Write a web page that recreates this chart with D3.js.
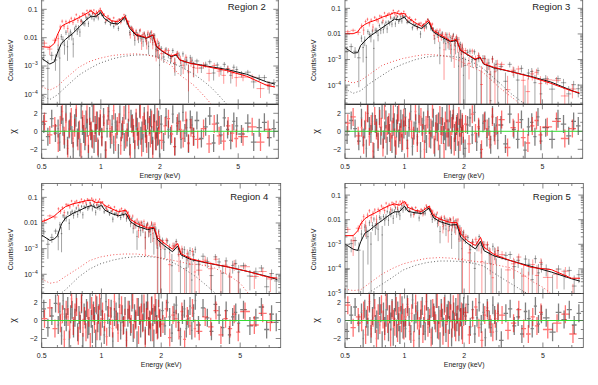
<!DOCTYPE html>
<html>
<head>
<meta charset="utf-8">
<script src="https://cdn.jsdelivr.net/npm/d3@7"></script>
<style>
  body { margin: 0; background: #fff; }
  svg { display: block; font-family: "Liberation Sans", Arial, sans-serif; }
</style>
</head>
<body>
<svg id="chart" width="598" height="385"></svg>
<script>
// ---- data -------------------------------------------------------------
const regions = ["Region 2", "Region 3", "Region 4", "Region 5"]

// energies (keV) of the model knots
const knotE = [0.5,0.55,0.58,0.6,0.63,0.66,0.72,0.78,0.84,0.89,0.94,1.0,1.04,1.13,1.22,1.33,1.4,1.51,1.71,1.84,1.92,2.07,2.28,2.42,2.52,2.83,3.45,4.37,5.52,6.98,7.7]
// total model, log10(counts/s/keV)
const modelBlack2 = [-2.73,-2.93,-2.85,-2.55,-2.20,-2.06,-1.85,-1.61,-1.38,-1.24,-1.26,-1.12,-1.32,-1.49,-1.52,-1.28,-1.67,-1.91,-2.02,-1.91,-2.32,-2.50,-2.67,-2.61,-2.79,-2.89,-3.00,-3.12,-3.29,-3.56,-3.64]
const modelRed2   = [-2.32,-2.34,-2.20,-1.91,-1.60,-1.52,-1.40,-1.28,-1.16,-1.05,-1.17,-1.02,-1.22,-1.40,-1.44,-1.24,-1.62,-1.88,-2.00,-1.90,-2.30,-2.48,-2.65,-2.58,-2.78,-2.90,-3.02,-3.16,-3.36,-3.68,-3.74]
const modelBlack3 = [-2.54,-2.75,-2.73,-2.45,-2.28,-2.12,-1.92,-1.73,-1.56,-1.42,-1.45,-1.34,-1.52,-1.68,-1.79,-1.54,-1.92,-2.08,-2.30,-2.25,-2.64,-2.80,-3.00,-2.93,-3.18,-3.32,-3.47,-3.66,-3.88,-4.20,-4.33]
const modelRed3   = [-1.99,-1.99,-1.92,-1.75,-1.63,-1.55,-1.45,-1.33,-1.25,-1.16,-1.22,-1.20,-1.36,-1.55,-1.70,-1.47,-1.86,-2.02,-2.27,-2.22,-2.62,-2.78,-2.98,-2.90,-3.16,-3.30,-3.47,-3.68,-3.93,-4.22,-4.30]
const modelBlack4 = [-2.47,-2.68,-2.62,-2.50,-2.03,-1.80,-1.62,-1.50,-1.38,-1.32,-1.42,-1.31,-1.50,-1.64,-1.72,-1.64,-1.95,-2.12,-2.26,-2.20,-2.66,-2.88,-3.12,-2.90,-3.25,-3.43,-3.57,-3.72,-3.90,-4.10,-4.21]
const modelRed4   = [-1.96,-1.82,-1.72,-1.62,-1.48,-1.36,-1.25,-1.19,-1.13,-1.11,-1.20,-1.18,-1.32,-1.45,-1.56,-1.50,-1.86,-2.02,-2.20,-2.17,-2.58,-2.78,-3.02,-2.80,-3.20,-3.40,-3.56,-3.72,-3.90,-4.12,-4.15]
const modelBlack5 = [-2.99,-3.20,-3.25,-2.90,-2.55,-2.45,-2.20,-2.00,-1.80,-1.68,-1.68,-1.45,-1.66,-1.72,-1.75,-1.53,-1.92,-2.08,-2.22,-2.20,-2.71,-2.95,-3.19,-2.88,-3.26,-3.47,-3.67,-3.90,-4.13,-4.40,-4.50]
const modelRed5   = [-2.65,-2.65,-2.45,-2.17,-1.96,-1.85,-1.70,-1.54,-1.42,-1.36,-1.41,-1.26,-1.50,-1.62,-1.67,-1.45,-1.82,-1.98,-2.12,-2.12,-2.58,-2.85,-3.05,-2.72,-3.12,-3.41,-3.67,-3.94,-4.03,-4.38,-4.38]

// dotted model components, log10(counts/s/keV)
const compE = [0.5,0.55,0.6,0.66,0.77,0.87,0.98,1.14,1.3,1.5,1.7,1.9,2.1,2.3,2.5,2.8,3.0,3.4,3.7,4.0,4.4,5.0,5.5]
const compBlack2 = [-4.03,-4.18,-4.02,-3.75,-3.33,-3.10,-2.91,-2.75,-2.66,-2.61,-2.61,-2.65,-2.76,-2.89,-3.00,-3.18,-3.30,-3.58,-3.80,-4.05,-4.37,-4.80,-5.20]
const compRed2   = [-3.73,-3.85,-3.72,-3.45,-3.05,-2.85,-2.73,-2.63,-2.59,-2.57,-2.60,-2.68,-2.83,-3.00,-3.30,-3.54,-3.70,-4.10,-4.40,-4.70,-5.00,-5.30,-5.60]
const compBlack3 = [-4.14,-4.32,-4.22,-3.96,-3.62,-3.36,-3.18,-3.00,-2.90,-2.85,-2.87,-2.92,-3.03,-3.17,-3.35,-3.68,-3.88,-4.28,-4.50,-4.70,-5.00,-5.30,-5.60]
const compRed3   = [-3.81,-3.92,-3.82,-3.60,-3.23,-3.08,-2.96,-2.86,-2.80,-2.83,-2.90,-3.05,-3.22,-3.36,-3.50,-3.85,-4.07,-4.40,-4.62,-4.90,-5.20,-5.50,-5.80]
const compBlack4 = [-5.00,-5.00,-4.85,-4.60,-4.10,-3.80,-3.60,-3.45,-3.36,-3.31,-3.31,-3.34,-3.42,-3.55,-3.70,-3.95,-4.10,-4.45,-4.70,-4.90,-5.10,-5.40,-5.60]
const compRed4   = [-4.18,-4.35,-4.30,-4.08,-3.75,-3.47,-3.33,-3.24,-3.21,-3.21,-3.26,-3.33,-3.40,-3.46,-3.52,-3.60,-3.62,-3.67,-3.75,-3.88,-4.05,-4.35,-4.75]
const compBlack5 = [-5.60,-5.50,-5.30,-4.96,-4.62,-4.34,-4.05,-3.85,-3.74,-3.68,-3.68,-3.70,-3.73,-3.80,-3.88,-4.15,-4.30,-4.57,-4.75,-4.92,-5.10,-5.30,-5.50]
const compRed5   = [-4.82,-4.88,-4.85,-4.60,-4.21,-3.98,-3.80,-3.66,-3.57,-3.54,-3.56,-3.61,-3.66,-3.70,-3.75,-3.82,-3.86,-3.95,-4.10,-4.25,-4.50,-4.75,-5.00]

// spectral grouping: [from keV, to keV, number of bins]
const groupBlack = [[0.5,0.6,4],[0.6,1.0,34],[1.0,2.0,46],[2.0,3.0,17],[3.0,5.0,12],[5.0,7.8,7]]
const groupRed   = [[0.5,0.6,3],[0.6,1.0,28],[1.0,2.0,40],[2.0,3.0,12],[3.0,5.0,9],[5.0,7.4,4]]
const exposure = {black: 80000, red: 60000}   // s

// residuals (chi) per bin
const resBlack2 = [0.8,-0.6,1.4,-0.2, 0.3,-1.2,1.8,0.5,-0.9,2.1,-1.6,0.2,1.1,-0.4,-2.2,0.9,1.5,-0.7,0.1,-1.8,2.4,0.6,-0.3,-1.1,1.3,0.4,-2.5,1.7,0.0,-0.8,2.0,-1.4,0.7,-0.2,1.2,-1.9,0.5,0.9, -0.6,1.6,-2.1,0.3,2.2,-0.9,0.8,-1.5,1.0,0.2,-2.4,1.9,-0.1,0.6,-1.2,2.3,-0.7,0.4,-1.7,1.4,0.9,-0.3,-2.0,1.1,0.5,-1.0,2.5,-0.5,0.1,-1.3,1.7,0.3,-0.8,1.2,-2.2,0.7,1.5,-0.4,-1.6,0.9,2.0,-1.1,0.2,-0.6,1.3,-1.9, 0.8,-1.2,1.6,0.2,-0.5,1.9,-1.7,0.6,1.1,-0.9,2.1,-0.2,0.4,-1.4,1.3,0.7,-0.6, 1.2,-0.8,0.5,1.7,-1.3,0.9,-0.4,1.5,0.2,-1.0,1.1,0.6, -0.3,0.9,-1.2,0.4,1.0,-0.7,0.3]
const resRed2 = [1.1,-0.4,0.6, -1.3,0.7,2.2,-0.5,1.0,-1.9,0.3,1.6,-0.8,0.4,2.6,-1.1,0.2,-2.3,1.3,0.8,-0.6,1.9,-1.4,0.5,0.1,-0.9,2.0,-0.2,1.2,-1.7,0.6,1.4, -0.7,0.9,-2.1,1.7,0.3,-0.4,2.3,-1.2,0.6,1.0,-1.6,0.2,1.8,-0.9,-0.1,2.1,-2.4,0.8,0.4,-1.0,1.5,-0.6,0.0,2.4,-1.8,0.7,1.1,-0.3,-1.4,1.9,0.5,-0.8,1.3,-2.0,0.9,0.1,-1.1,1.6,-0.5,0.7, -1.0,0.6,1.4,-0.3,-1.7,0.9,0.2,-0.8,1.2,-1.3,0.4,-0.6, -0.9,0.3,-1.4,0.8,-0.5,-1.1,0.6,-0.2,-0.8, -0.6,0.5,-1.2,0.2]
const resBlack3 = [-0.4,1.2,0.3,-1.1, 1.5,-0.7,0.2,-1.9,2.0,0.6,-0.3,1.1,-2.3,0.8,0.4,-1.2,1.7,-0.5,2.4,-0.9,0.1,1.3,-1.6,0.7,-0.2,2.1,-1.4,0.5,1.0,-2.0,0.3,1.8,-0.8,-0.1,1.4,-1.3,0.9,0.2, 1.6,-1.0,0.4,2.2,-1.7,0.1,0.9,-0.6,1.9,-2.2,0.5,1.2,-0.3,-1.4,2.5,0.7,-0.9,0.2,1.5,-1.8,0.8,-0.1,1.1,-2.5,0.6,1.7,-0.4,0.0,-1.1,2.0,0.3,-0.7,1.3,-1.5,0.9,2.3,-0.2,-1.2,0.6,1.0,-2.1,0.4,1.4,-0.5,0.8,-1.6, -1.9,0.7,1.5,-0.4,2.1,-1.2,0.3,-2.4,0.9,1.2,-0.7,0.5,-1.5,1.8,-0.1,0.6,-1.0, 0.7,-1.4,1.9,0.2,-0.9,1.3,-2.1,0.5,1.0,-0.6,1.6,-1.1, 0.4,-0.9,1.4,0.8,-0.5,1.1,0.6]
const resRed3 = [0.9,1.6,-0.5, 0.4,-1.5,1.2,2.0,-0.6,0.8,-2.2,1.7,0.1,-0.9,1.4,0.5,-1.8,2.3,-0.3,0.6,1.0,-1.2,0.2,1.9,-0.7,-1.6,0.9,2.1,-0.4,0.3,-1.1,1.5, 0.6,-1.9,1.1,0.2,-0.5,2.2,-1.3,0.8,1.6,-0.2,-2.0,0.7,1.3,-0.8,0.4,2.5,-1.5,0.0,0.9,-1.1,1.8,-0.4,0.5,-2.3,1.2,0.3,-0.7,2.0,-1.0,0.6,1.4,-1.7,0.1,0.8,-0.6,1.7,-1.2,0.4,1.0,-0.3, 0.8,-1.4,1.9,-0.2,0.5,-2.0,1.1,0.3,-0.9,1.6,-0.5,0.7, 1.3,-1.8,0.4,1.0,-0.7,-1.3,0.6,1.2,-0.4, 0.5,1.1,-0.8,0.3]
const resBlack4 = [1.3,-0.8,0.5,1.9, -0.5,1.0,-1.7,2.2,0.4,-0.2,1.6,-2.1,0.7,1.2,-0.9,0.3,2.0,-1.3,0.6,-0.4,1.8,-2.4,0.9,0.1,1.4,-1.0,-0.6,2.3,0.2,-1.5,1.1,0.5,-2.0,1.7,-0.3,0.8,-1.2,1.5, 0.2,-1.6,2.1,0.6,-0.8,1.3,-2.3,0.4,1.0,-0.1,2.4,-1.1,0.7,-0.5,1.6,-1.9,0.3,1.2,-0.7,2.0,-1.4,0.8,0.0,-2.2,1.5,0.5,-0.9,1.9,-0.2,0.9,-1.7,1.1,2.2,-0.6,0.1,-1.3,1.7,0.4,-2.0,0.6,1.4,-0.4,-1.0,2.5,0.3,-0.8, 1.1,-0.6,2.0,0.4,-1.4,0.9,1.7,-0.2,-1.8,0.6,1.3,-0.9,0.2,1.6,-1.1,0.8,2.2, -0.5,1.4,0.3,-1.2,1.8,0.6,-0.8,1.1,-1.6,0.4,0.9,-0.3, 1.2,-0.6,0.3,1.5,-1.0,0.7,-0.2]
const resRed4 = [0.2,1.4,-0.9, 1.8,-0.3,0.7,-2.1,1.2,0.4,-1.0,2.4,-0.6,0.9,1.5,-1.7,0.0,2.0,-0.8,0.5,-1.3,1.1,0.3,-2.4,1.6,0.8,-0.4,1.9,-1.2,0.6,2.2,-0.7, 1.0,-0.2,-1.8,1.4,0.5,-0.9,2.1,0.1,-1.4,0.8,1.7,-0.6,0.3,-2.2,1.2,0.7,-0.4,2.3,-1.0,0.2,1.5,-1.6,0.6,0.9,-0.3,1.9,-2.0,0.4,1.1,-0.7,0.0,1.6,-1.3,0.8,2.0,-0.5,-1.1,1.3,0.2,-0.8, -0.4,1.3,-1.9,0.6,0.2,-1.1,1.0,-2.1,0.5,-0.6,1.4,-0.9, -1.2,0.4,-0.7,1.1,-1.6,0.2,-0.9,0.7,-1.3, 1.0,-0.5,0.8,-0.2]
const resBlack5 = [-1.2,0.6,1.5,-0.3, 0.9,-2.0,1.3,0.2,-0.7,1.9,-1.5,0.5,2.3,-0.4,0.1,-1.1,1.6,0.8,-2.2,1.0,-0.6,0.3,2.1,-1.3,0.7,-0.1,1.4,-1.8,0.4,2.0,-0.9,1.1,-0.2,-1.6,0.6,1.7,-1.0,0.3, -0.9,1.8,0.4,-1.5,2.3,-0.3,0.7,1.1,-2.0,0.2,1.6,-0.6,-1.2,2.1,0.5,-0.4,1.3,-1.7,0.9,0.0,2.4,-1.0,0.6,-2.3,1.4,0.3,-0.7,1.9,-1.4,0.8,1.2,-0.5,2.2,-1.9,0.1,1.0,-0.8,1.5,-0.2,0.7,-1.3,2.0,0.4,-1.1,0.9,1.6, 0.5,1.8,-0.7,1.2,-1.5,0.3,2.0,-0.4,0.9,-1.9,1.4,0.1,-0.8,1.7,0.6,-1.2,1.0, -2.2,0.8,1.3,-0.6,0.4,-1.5,1.0,0.2,-0.9,1.6,-0.4,0.7, 0.3,-1.3,0.9,0.1,1.2,-0.5,0.8]
const resRed5 = [1.7,-0.8,0.4, -0.2,1.1,-1.6,0.6,2.1,-0.9,0.3,1.4,-2.0,0.8,-0.5,1.8,0.1,-1.2,2.3,-0.4,0.7,-1.9,1.2,0.2,-0.7,1.6,-1.4,0.5,2.0,-0.3,0.9,-1.1, 0.4,1.5,-1.2,0.8,-2.2,1.9,0.0,-0.6,1.2,-1.5,0.7,2.1,-0.8,0.3,-1.9,1.4,0.6,-0.3,2.4,-1.1,0.2,0.9,-1.7,1.6,-0.4,0.5,-2.0,1.1,0.8,-0.9,1.8,-0.1,-1.3,0.6,2.2,-0.7,0.3,1.0,-1.6,0.4, 0.9,-1.6,0.3,1.5,-0.8,-2.2,0.6,1.1,-0.4,-1.3,0.2,0.8, 0.6,-1.1,-0.3,1.2,-0.9,-1.5,0.4,-0.6,0.9, -1.0,-0.3,0.7,-1.5]

// log10 y range of each spectrum panel
const yLimits = [[-4.35,-0.47],[-4.75,-0.45],[-4.75,-0.46],[-5.0,-0.53]]

// ---- layout -------------------------------------------------------------
const boxes = [
  {l: 41.7, r: 278.3, t: -5.7},
  {l: 345,  r: 582.7, t: -5.7},
  {l: 41.7, r: 280.7, t: 183.5},
  {l: 345,  r: 583.3, t: 183.5}
]
const TOP_H = 110, RES_H = 54
const FRAME = "#555"

const panels = [
  {mb: modelBlack2, mr: modelRed2, cb: compBlack2, cr: compRed2, rb: resBlack2, rr: resRed2},
  {mb: modelBlack3, mr: modelRed3, cb: compBlack3, cr: compRed3, rb: resBlack3, rr: resRed3},
  {mb: modelBlack4, mr: modelRed4, cb: compBlack4, cr: compRed4, rb: resBlack4, rr: resRed4},
  {mb: modelBlack5, mr: modelRed5, cb: compBlack5, cr: compRed5, rb: resBlack5, rr: resRed5}
]

function logInterp(xs, ys){
    const s = d3.scaleLinear().domain(xs.map(Math.log10)).range(ys)
    return e => Math.pow(10, s(Math.log10(e)))
}

function buildBins(groups){
    const out = []
    groups.forEach(([lo, hi, n]) => {
        const w = (hi - lo) / n
        for (let i = 0; i < n; i++) out.push({lo: lo + i * w, hi: lo + (i + 1) * w})
    })
    return out
}
const binsBlack = buildBins(groupBlack)
const binsRed = buildBins(groupRed)

function decadeLabel(sel, k){
    if (k === -1) sel.text("0.1")
    else if (k === -2) sel.text("0.01")
    else {
        sel.text("10")
        sel.append("tspan").attr("dy", -3).attr("font-size", 5).text("\u2212" + (-k))
    }
}

const svg = d3.select("#chart")
const defs = svg.append("defs")

panels.forEach((p, pi) => {
    const b = boxes[pi]
    const w = b.r - b.l
    const lim = yLimits[pi]
    const x = d3.scaleLog().domain([0.5, 8]).range([0, w])
    const y = d3.scaleLog().domain([Math.pow(10, lim[0]), Math.pow(10, lim[1])]).range([TOP_H, 0])
    const yr = d3.scaleLinear().domain([-3, 3]).range([RES_H, 0])
    const yv = v => v > 0 ? Math.min(y(v), TOP_H + 2) : TOP_H + 2

    defs.append("clipPath").attr("id", "ct" + pi).append("rect").attr("width", w).attr("height", TOP_H)
    defs.append("clipPath").attr("id", "cr" + pi).append("rect").attr("width", w).attr("height", RES_H)

    const g = svg.append("g").attr("transform", `translate(${b.l},${b.t})`)
    const gr = svg.append("g").attr("transform", `translate(${b.l},${b.t + TOP_H})`)
    const gt = g.append("g").attr("clip-path", `url(#ct${pi})`)
    const grc = gr.append("g").attr("clip-path", `url(#cr${pi})`)

    const spectra = [
        {model: logInterp(knotE, p.mb), knots: p.mb, res: p.rb, bins: binsBlack, T: exposure.black,
         bar: "rgba(0,0,0,0.4)", rbar: "rgba(0,0,0,0.5)", line: "#111", comp: p.cb, dot: "#555"},
        {model: logInterp(knotE, p.mr), knots: p.mr, res: p.rr, bins: binsRed, T: exposure.red,
         bar: "rgba(255,0,0,0.45)", rbar: "rgba(255,0,0,0.55)", line: "#f00", comp: p.cr, dot: "#e44"}
    ]

    // data with errors (data = model + chi * sigma), one path per bin
    spectra.forEach(s => {
        const pts = s.bins.map((bin, i) => {
            const r = s.res[i]
            const c = Math.sqrt(bin.lo * bin.hi)
            const m = s.model(c)
            const sig = Math.sqrt(m / (s.T * (bin.hi - bin.lo)))
            return {lo: bin.lo, hi: bin.hi, c, r, d: m + r * sig, sig}
        }).filter(d => d.r !== undefined)

        gt.selectAll(null).data(pts).join("path")
            .attr("d", d => `M${x(d.c)},${yv(d.d + d.sig)}V${yv(d.d - d.sig)}` +
                (d.d > 0 ? `M${x(d.lo)},${y(d.d)}H${x(d.hi)}` : ""))
            .attr("fill", "none").attr("stroke", s.bar).attr("stroke-width", 0.9)
        grc.selectAll(null).data(pts).join("path")
            .attr("d", d => `M${x(d.c)},${yr(d.r + 1)}V${yr(d.r - 1)}M${x(d.lo)},${yr(d.r)}H${x(d.hi)}`)
            .attr("fill", "none").attr("stroke", s.rbar).attr("stroke-width", 1.3)
    })

    // dotted components
    spectra.forEach(s => {
        const line = d3.line().x(d => x(d[0])).y(d => y(Math.pow(10, d[1])))
        gt.append("path").datum(d3.zip(compE, s.comp)).attr("d", line)
            .attr("fill", "none").attr("stroke", s.dot).attr("stroke-width", 0.9)
            .attr("stroke-dasharray", "1,2.2")
    })
    // total models
    spectra.forEach(s => {
        const line = d3.line().x(d => x(d[0])).y(d => y(Math.pow(10, d[1])))
        gt.append("path").datum(d3.zip(knotE, s.knots)).attr("d", line)
            .attr("fill", "none").attr("stroke", s.line).attr("stroke-width", 1)
    })

    // zero line in residuals
    grc.append("line").attr("x1", 0).attr("x2", w).attr("y1", yr(0)).attr("y2", yr(0))
        .attr("stroke", "#33dd33").attr("stroke-width", 1)

    // frames
    g.append("rect").attr("width", w).attr("height", TOP_H).attr("fill", "none").attr("stroke", FRAME).attr("stroke-width", 0.8)
    gr.append("rect").attr("width", w).attr("height", RES_H).attr("fill", "none").attr("stroke", FRAME).attr("stroke-width", 0.8)
    gr.append("line").attr("x1", 0).attr("x2", w).attr("stroke", "#333").attr("stroke-width", 1.2)

    // x ticks (inward, all four horizontal edges)
    const xMajor = [0.5, 1, 2, 5], xMinor = [0.6, 0.7, 0.8, 0.9, 3, 4, 6, 7]
    const tick = (sel, x1, y1, x2, y2) => sel.append("line").attr("x1", x1).attr("y1", y1)
        .attr("x2", x2).attr("y2", y2).attr("stroke", FRAME).attr("stroke-width", 0.7)
    ;[[g, TOP_H], [gr, RES_H]].forEach(([sel, h]) => {
        xMajor.forEach(v => { tick(sel, x(v), 0, x(v), 5); tick(sel, x(v), h, x(v), h - 5) })
        xMinor.forEach(v => { tick(sel, x(v), 0, x(v), 2.5); tick(sel, x(v), h, x(v), h - 2.5) })
    })

    // y log ticks + labels
    for (let k = Math.floor(lim[0]); k <= Math.ceil(lim[1]); k++) {
        for (let j = 1; j <= 9; j++) {
            const lv = Math.log10(j) + k
            if (lv < lim[0] - 1e-6 || lv > lim[1] + 1e-6) continue
            const yy = y(j * Math.pow(10, k))
            const len = j === 1 ? 5 : 2.5
            tick(g, 0, yy, len, yy); tick(g, w, yy, w - len, yy)
            if (j === 1) {
                const t = g.append("text").attr("x", -4).attr("y", yy).attr("dy", "0.35em")
                    .attr("text-anchor", "end").attr("font-size", 7).attr("fill", "#222")
                decadeLabel(t, k)
            }
        }
    }
    // residual y ticks
    d3.range(-3, 4).forEach(v => {
        const len = v % 2 === 0 ? 5 : 2.5
        tick(gr, 0, yr(v), len, yr(v)); tick(gr, w, yr(v), w - len, yr(v))
    })
    ;[-2, 0, 2].forEach(v => {
        gr.append("text").attr("x", -4).attr("y", yr(v)).attr("dy", "0.35em")
            .attr("text-anchor", "end").attr("font-size", 7).attr("fill", "#222")
            .text(v < 0 ? "\u2212" + (-v) : v)
    })
    // x labels
    xMajor.forEach(v => {
        gr.append("text").attr("x", x(v)).attr("y", RES_H + 10.5)
            .attr("text-anchor", "middle").attr("font-size", 7).attr("fill", "#222").text(v)
    })
    gr.append("text").attr("x", w / 2).attr("y", RES_H + 19.5)
        .attr("text-anchor", "middle").attr("font-size", 7).attr("fill", "#222").text("Energy (keV)")

    // axis titles
    svg.append("text").attr("transform", `translate(${b.l - 29},${b.t + 66}) rotate(-90)`)
        .attr("text-anchor", "middle").attr("font-size", 7).attr("fill", "#222").text("Counts/s/keV")
    svg.append("text").attr("transform", `translate(${b.l - 29},${b.t + TOP_H + RES_H / 2}) rotate(-90)`)
        .attr("text-anchor", "middle").attr("dy", "0.35em").attr("font-size", 9).attr("fill", "#222").text("\u03c7")

    // region label
    g.append("text").attr("x", w - 12.5).attr("y", 16).attr("text-anchor", "end")
        .attr("font-size", 9.5).attr("fill", "#222").text(regions[pi])
})
</script>
</body>
</html>
